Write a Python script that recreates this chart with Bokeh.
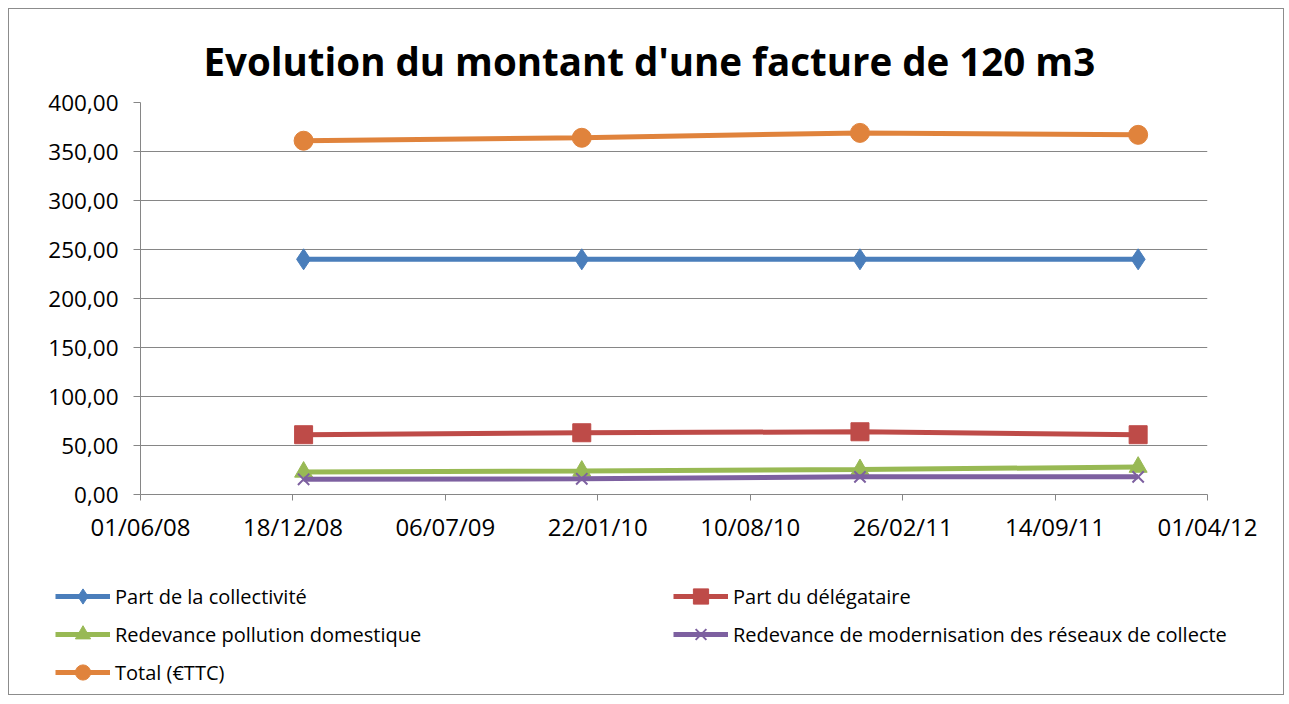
import pandas as pd
from bokeh.plotting import figure
from bokeh.layouts import column
from bokeh.models import Range1d, FixedTicker, DatetimeTickFormatter, Legend, LegendItem
from bokeh.embed import file_html
from bokeh.resources import INLINE

title_text = "Evolution du montant d'une facture de 120 m3"

dates = ["2009-01-01", "2010-01-01", "2011-01-01", "2012-01-01"]
part_collectivite = [240, 240, 240, 240]
part_delegataire = [61, 63, 64, 61]
redevance_pollution = [23, 24, 25.5, 28]
redevance_modernisation = [15.5, 16, 18, 18]
total_ttc = [361, 364, 369, 367]

series_names = [
    "Part de la collectivité",
    "Part du délégataire",
    "Redevance pollution domestique",
    "Redevance de modernisation des réseaux de collecte",
    "Total (€TTC)",
]

x_tick_dates = ["2008-06-01", "2008-12-18", "2009-07-06", "2010-01-22",
                "2010-08-10", "2011-02-26", "2011-09-14", "2012-04-01"]
y_ticks = [0, 50, 100, 150, 200, 250, 300, 350, 400]
y_tick_labels = ["0,00", "50,00", "100,00", "150,00", "200,00",
                 "250,00", "300,00", "350,00", "400,00"]

FONT = "Open Sans"
GRAY = "#868686"

x = pd.to_datetime(dates)
tick_dt = pd.to_datetime(x_tick_dates)
tick_ms = [t.value / 1e6 for t in tick_dt]

p = figure(
    width=1274, height=560,
    x_axis_type="datetime",
    output_backend="svg", toolbar_location=None,
    x_range=Range1d(start=tick_dt[0], end=tick_dt[-1]),
    y_range=Range1d(start=0, end=400),
    min_border_left=131, min_border_right=76,
    min_border_top=93, min_border_bottom=75,
)
p.outline_line_color = None
p.background_fill_color = "white"
p.border_fill_color = "white"

p.title.text = title_text
p.title.text_font = FONT
p.title.text_font_style = "bold"
p.title.text_font_size = "38.5px"
p.title.text_color = "black"
p.title.align = "left"
p.title.offset = 63
p.title.standoff = 31

p.xaxis.ticker = FixedTicker(ticks=tick_ms)
fmt = "%d/%m/%y"
p.xaxis.formatter = DatetimeTickFormatter(
    microseconds=fmt, milliseconds=fmt, seconds=fmt, minsec=fmt, minutes=fmt,
    hourmin=fmt, hours=fmt, days=fmt, months=fmt, years=fmt)
p.yaxis.ticker = FixedTicker(ticks=y_ticks)
p.yaxis.major_label_overrides = {t: l for t, l in zip(y_ticks, y_tick_labels)}

for ax in (p.xaxis, p.yaxis):
    ax.axis_line_color = GRAY
    ax.axis_line_width = 1
    ax.major_tick_line_color = GRAY
    ax.major_tick_in = 0
    ax.minor_tick_line_color = None
    ax.major_label_text_font = FONT
    ax.major_label_text_color = "black"
p.xaxis.major_label_text_font_size = "24px"
p.yaxis.major_label_text_font_size = "22.5px"
p.xaxis.major_tick_out = 6
p.yaxis.major_tick_out = 7
p.xaxis.major_label_standoff = 9
p.yaxis.major_label_standoff = 15

p.xgrid.grid_line_color = None
p.ygrid.ticker = FixedTicker(ticks=y_ticks)
p.ygrid.grid_line_color = GRAY
p.ygrid.grid_line_width = 1

styles = [
    (part_collectivite, "#4A7EBB", "diamond", 21),
    (part_delegataire, "#BE4B48", "square", 18),
    (redevance_pollution, "#98B954", "triangle", 18),
    (redevance_modernisation, "#7D60A0", "x", 16),
    (total_ttc, "#E0833C", "circle", 19),
]

# legend strip below the chart: same series drawn out of its view, only the legend shows
lg = figure(
    width=1274, height=125,
    x_axis_type="datetime",
    output_backend="svg", toolbar_location=None,
    x_range=Range1d(start=tick_dt[0], end=tick_dt[-1]),
    y_range=Range1d(start=-300, end=-200),
    min_border=0, x_axis_location=None, y_axis_location=None,
)
if "frame_align" in lg.properties():
    lg.frame_align = False
    p.frame_align = False
lg.outline_line_color = None
lg.xgrid.grid_line_color = None
lg.ygrid.grid_line_color = None
lg.background_fill_color = "white"
lg.border_fill_color = "white"

items = {}
for (vals, color, marker, size), name in zip(styles, series_names):
    for fig in (p, lg):
        lr = fig.line(x, vals, line_color=color, line_width=5)
        if marker == "x":
            sr = fig.scatter(x, vals, marker=marker, size=size, line_color=color, line_width=2)
        else:
            sr = fig.scatter(x, vals, marker=marker, size=size, fill_color=color, line_color=color)
    items[name] = LegendItem(label=name, renderers=[lr, sr])

# column-major filling: left column first, then right column
order = [0, 2, 4, 1, 3]
legend = Legend(
    items=[items[series_names[i]] for i in order], ncols=2,
    location=(46, 3),
    label_text_font=FONT, label_text_font_size="20px", label_text_color="black",
    glyph_width=55, glyph_height=38, label_standoff=5,
    label_width=558, label_height=20, spacing=0,
    padding=0, margin=0,
    border_line_color=None, background_fill_alpha=0,
)
lg.add_layout(legend, "center")

layout = column(p, lg, spacing=0,
                styles={"border": "1px solid #8c8c8c", "margin": "8px 0 0 8px"})

open("out.html", "w").write(file_html(layout, INLINE))
